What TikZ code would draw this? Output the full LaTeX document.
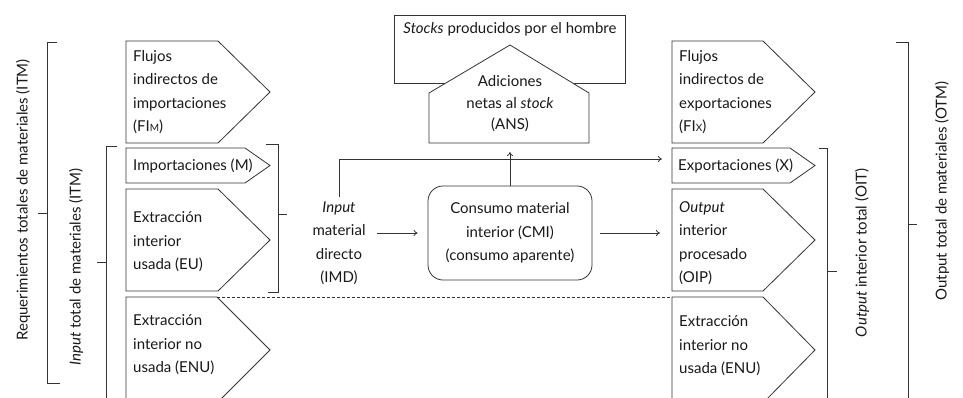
\documentclass[tikz,border=0pt]{standalone}
\usepackage{fontspec}
\setmainfont{Lato}
\usetikzlibrary{arrows.meta}
\begin{document}
\begin{tikzpicture}[x=1pt,y=-1pt]
	\tikzstyle{myline}=[black!80,line width=0.8pt]
	\tikzstyle{mybox}=[myline,fill=white]
	\tikzstyle{mytext}=[inner sep=0pt,align=left,text=black!90,font=\fontsize{15}{23.5}\selectfont]
	\tikzstyle{myarrow}=[myline,-{To[length=4pt,width=6pt]}]
	\useasboundingbox (0,0) rectangle (963,397);
	\clip (0,0) rectangle (963,397);

		% arrow shaped boxes: left / top / bottom / corner / tip
		\foreach \l / \t / \b / \c / \p in {126/41/143/218/270,126/148/183/245/270,126/189/291/218/270,126/297/403/217/270,672/41/143/763/815,672/148/183/790/815,672/189/291/763/815,672/297/403/763/815} { \draw[mybox] (\l,\t) -- (\c,\t) -- (\p,{(\t+\b)/2}) -- (\c,\b) -- (\l,\b) -- cycle;}

		\node[mytext,anchor=west] (fim) at (133,92) {Flujos\\indirectos de\\importaciones\\(FI{\fontsize{10}{10}\selectfont M})};
		\node[mytext,anchor=west] (imp) at (133,166) {Importaciones (M)};
		\node[mytext,anchor=west] (eu) at (133,242) {Extracción\\interior\\usada (EU)};
		\node[mytext,anchor=west] (enul) at (133,345) {Extracción\\interior no\\usada (ENU)};

		\node[mytext,anchor=west] (fix) at (679,92) {Flujos\\indirectos de\\exportaciones\\(FI{\fontsize{10}{10}\selectfont X})};
		\node[mytext,anchor=west] (exp) at (678,166) {Exportaciones (X)};
		\node[mytext,anchor=west] (oip) at (679,243) {\textit{Output}\\interior\\procesado\\(OIP)};
		\node[mytext,anchor=west] (enur) at (679,346) {Extracción\\interior no\\usada (ENU)};

		% stocks
		\draw[myline] (394,15) rectangle (625,83);
		\draw[mybox] (429,143) -- (429,93) -- (510,45) -- (589,93) -- (589,143) -- cycle;
		\node[mytext] (stk) at (510,29) {\textit{Stocks} producidos por el hombre};
		\node[mytext,align=center,font=\fontsize{15}{21.5}\selectfont] (ans) at (510,104) {Adiciones\\netas al \textit{stock}\\(ANS)};

		\node[mytext,align=center] (imd) at (339,243) {\textit{Input}\\material\\directo\\(IMD)};
		\node[mytext,align=center,draw=black!80,line width=0.8pt,rounded corners=15pt,minimum width=164pt,minimum height=94pt] (cmi) at (510,233) {Consumo material\\interior (CMI)\\(consumo aparente)};

		\coordinate (expin) at (662,159);
		\coordinate (ansin) at (510,152);
		\coordinate (oipin) at (660,233);

		\draw[myarrow,shorten <=11pt,shorten >=10pt] (imd.east |- cmi) -- (cmi);
		\draw[myarrow,shorten <=8pt] (cmi) -- (oipin);
		\draw[myarrow,shorten <=4pt] (imd.north) |- (expin);
		\draw[myarrow] (cmi) -- (ansin);

		\draw[myline,dash pattern=on 3pt off 2pt] (217,297) -- (672,297);

		% brackets
		\draw[myline] (57,42) -- (47,42) -- (47,383) -- (60,383) (47,213) -- (38,213);
		\draw[myline] (117,146) -- (106,146) -- (106,400) (106,262) -- (97,262);
		\draw[myline] (266,144) -- (278,144) -- (278,292) -- (268,292) (278,214) -- (287,214);
		\draw[myline] (819,148) -- (827,148) -- (827,400) (827,271) -- (837,271);
		\draw[myline] (896,42) -- (908,42) -- (908,400) (908,224) -- (917,224);

		\node[mytext,rotate=90] (rtm) at (23,200) {Requerimientos totales de materiales (ITM)};
		\node[mytext,rotate=90] (itm) at (76,267) {\textit{Input} total de materiales (ITM)};
		\node[mytext,rotate=90] (oit) at (862,253) {\textit{Output} interior total (OIT)};
		\node[mytext,rotate=90] (otm) at (942,191) {Output total de materiales (OTM)};
\end{tikzpicture}
\end{document}
